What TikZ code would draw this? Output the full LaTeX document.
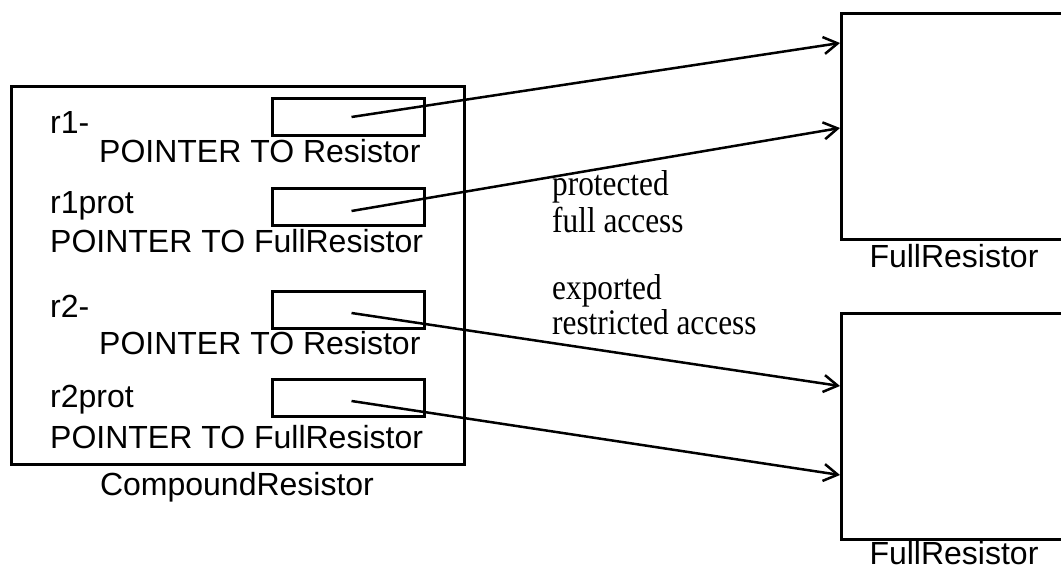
\documentclass[tikz,border=0pt]{standalone}
\usepackage{fontspec}
\setmainfont{Liberation Serif}
\newfontfamily\arialfont{Liberation Sans}
\usetikzlibrary{arrows.meta}
\begin{document}
\begin{tikzpicture}[x=1pt,y=-1pt,
  frame/.style={draw,line width=3pt,inner sep=0pt,anchor=north west},
  slot/.style={frame,minimum width=152pt,minimum height=37pt},
  sanslabel/.style={inner sep=0pt,anchor=base west,font=\arialfont\fontsize{32}{38}\selectfont},
  seriflabel/.style={inner sep=0pt,anchor=base west,font=\fontsize{36}{36}\selectfont},
  ptr/.style={line width=2.5pt,-{Straight Barb[length=14pt,width=17pt,line width=2.5pt]}}]
\useasboundingbox (0,0) rectangle (1061,569);

% compound object with its four pointer fields
\node[frame,minimum width=453pt,minimum height=378pt] (comp) at (10,85) {};
\node[slot] (s1) at (271,97) {};
\node[slot] (s2) at (271,187) {};
\node[slot] (s3) at (271,290) {};
\node[slot] (s4) at (271,378) {};

\node[sanslabel] (l1a) at (50,134) {r1-};
\node[sanslabel] (l1b) at (99,163) {POINTER TO Resistor};
\node[sanslabel] (l2a) at (50,214) {r1prot};
\node[sanslabel] (l2b) at (50,253) {POINTER TO FullResistor};
\node[sanslabel] (l3a) at (50,318) {r2-};
\node[sanslabel] (l3b) at (99,355) {POINTER TO Resistor};
\node[sanslabel] (l4a) at (50,408) {r2prot};
\node[sanslabel] (l4b) at (50,448) {POINTER TO FullResistor};
\node[sanslabel,anchor=base] (cname) at (237,495) {CompoundResistor};

% the two referenced objects
\node[frame,minimum width=226pt,minimum height=226pt] (fa) at (840,12) {};
\node[frame,minimum width=226pt,minimum height=226pt] (fb) at (840,312) {};
\node[sanslabel,anchor=base] (fan) at (954,268) {FullResistor};
\node[sanslabel,anchor=base] (fbn) at (954,564) {FullResistor};

% access annotations
\node[seriflabel] (acc1) at (552,196) {\scalebox{0.87}[1]{protected}};
\node[seriflabel] (acc2) at (552,233) {\scalebox{0.87}[1]{full access}};
\node[seriflabel] (acc3) at (552,300) {\scalebox{0.87}[1]{exported}};
\node[seriflabel] (acc4) at (552,335) {\scalebox{0.87}[1]{restricted access}};

% arrow targets on the left sides of the objects
\coordinate (ta1) at ([yshift=-31pt]fa.north west);
\coordinate (ta2) at ([yshift=-116pt]fa.north west);
\coordinate (tb1) at ([yshift=-74pt]fb.north west);
\coordinate (tb2) at ([yshift=-163pt]fb.north west);

\draw[ptr] ([xshift=3pt]s1.center) -- (ta1);
\draw[ptr] ([xshift=3pt,yshift=-4pt]s2.center) -- (ta2);
\draw[ptr] ([xshift=3pt,yshift=-3pt]s3.center) -- (tb1);
\draw[ptr] ([xshift=3pt,yshift=-3pt]s4.center) -- (tb2);
\end{tikzpicture}
\end{document}
